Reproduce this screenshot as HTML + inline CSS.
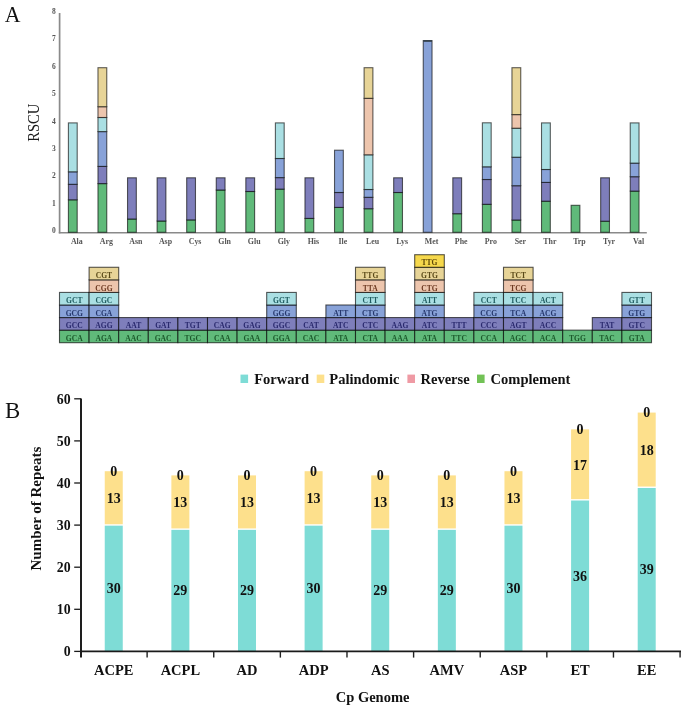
<!DOCTYPE html>
<html><head><meta charset="utf-8"><style>
html,body{margin:0;padding:0;background:#fff;}
body{width:685px;height:705px;overflow:hidden;font-family:"Liberation Serif",serif;}
svg{display:block;filter:blur(0.4px);}
</style></head><body>
<svg width="685" height="705" viewBox="0 0 685 705">
<text transform="translate(4.7,21.7) scale(1,1.08)" font-size="21.8" font-family="Liberation Serif" fill="#111">A</text>
<text transform="translate(39.4,122.7) rotate(-90) scale(0.89,1)" text-anchor="middle" font-size="16.5" font-family="Liberation Serif" fill="#1a1a1a">RSCU</text>
<text x="55.7" y="233.1" text-anchor="end" font-size="7.5" font-weight="bold" font-family="Liberation Serif" fill="#555">0</text>
<text x="55.7" y="205.7" text-anchor="end" font-size="7.5" font-weight="bold" font-family="Liberation Serif" fill="#555">1</text>
<text x="55.7" y="178.3" text-anchor="end" font-size="7.5" font-weight="bold" font-family="Liberation Serif" fill="#555">2</text>
<text x="55.7" y="150.9" text-anchor="end" font-size="7.5" font-weight="bold" font-family="Liberation Serif" fill="#555">3</text>
<text x="55.7" y="123.5" text-anchor="end" font-size="7.5" font-weight="bold" font-family="Liberation Serif" fill="#555">4</text>
<text x="55.7" y="96.1" text-anchor="end" font-size="7.5" font-weight="bold" font-family="Liberation Serif" fill="#555">5</text>
<text x="55.7" y="68.7" text-anchor="end" font-size="7.5" font-weight="bold" font-family="Liberation Serif" fill="#555">6</text>
<text x="55.7" y="41.3" text-anchor="end" font-size="7.5" font-weight="bold" font-family="Liberation Serif" fill="#555">7</text>
<text x="55.7" y="13.9" text-anchor="end" font-size="7.5" font-weight="bold" font-family="Liberation Serif" fill="#555">8</text>
<line x1="59.6" y1="13" x2="59.6" y2="233.4" stroke="#8a8a8a" stroke-width="1.7"/>
<line x1="58.8" y1="232.7" x2="646.8" y2="232.7" stroke="#8a8a8a" stroke-width="1.5"/>
<rect x="68.40" y="199.80" width="8.8" height="32.50" fill="#60ba7a" stroke="#000" stroke-opacity="0.62" stroke-width="1.1"/>
<rect x="68.40" y="184.30" width="8.8" height="15.50" fill="#7e7ebb" stroke="#000" stroke-opacity="0.62" stroke-width="1.1"/>
<rect x="68.40" y="171.80" width="8.8" height="12.50" fill="#88a2d8" stroke="#000" stroke-opacity="0.62" stroke-width="1.1"/>
<rect x="68.40" y="122.90" width="8.8" height="48.90" fill="#aadfe3" stroke="#000" stroke-opacity="0.62" stroke-width="1.1"/>
<text x="76.80" y="243.7" text-anchor="middle" font-size="7.9" font-weight="bold" font-family="Liberation Serif" fill="#555">Ala</text>
<rect x="97.97" y="183.60" width="8.8" height="48.70" fill="#60ba7a" stroke="#000" stroke-opacity="0.62" stroke-width="1.1"/>
<rect x="97.97" y="166.40" width="8.8" height="17.20" fill="#7e7ebb" stroke="#000" stroke-opacity="0.62" stroke-width="1.1"/>
<rect x="97.97" y="131.60" width="8.8" height="34.80" fill="#88a2d8" stroke="#000" stroke-opacity="0.62" stroke-width="1.1"/>
<rect x="97.97" y="117.50" width="8.8" height="14.10" fill="#aadfe3" stroke="#000" stroke-opacity="0.62" stroke-width="1.1"/>
<rect x="97.97" y="106.70" width="8.8" height="10.80" fill="#edc5ad" stroke="#000" stroke-opacity="0.62" stroke-width="1.1"/>
<rect x="97.97" y="67.70" width="8.8" height="39.00" fill="#e7d497" stroke="#000" stroke-opacity="0.62" stroke-width="1.1"/>
<text x="106.37" y="243.7" text-anchor="middle" font-size="7.9" font-weight="bold" font-family="Liberation Serif" fill="#555">Arg</text>
<rect x="127.54" y="219.00" width="8.8" height="13.30" fill="#60ba7a" stroke="#000" stroke-opacity="0.62" stroke-width="1.1"/>
<rect x="127.54" y="177.80" width="8.8" height="41.20" fill="#7e7ebb" stroke="#000" stroke-opacity="0.62" stroke-width="1.1"/>
<text x="135.94" y="243.7" text-anchor="middle" font-size="7.9" font-weight="bold" font-family="Liberation Serif" fill="#555">Asn</text>
<rect x="157.11" y="221.00" width="8.8" height="11.30" fill="#60ba7a" stroke="#000" stroke-opacity="0.62" stroke-width="1.1"/>
<rect x="157.11" y="177.80" width="8.8" height="43.20" fill="#7e7ebb" stroke="#000" stroke-opacity="0.62" stroke-width="1.1"/>
<text x="165.51" y="243.7" text-anchor="middle" font-size="7.9" font-weight="bold" font-family="Liberation Serif" fill="#555">Asp</text>
<rect x="186.68" y="219.90" width="8.8" height="12.40" fill="#60ba7a" stroke="#000" stroke-opacity="0.62" stroke-width="1.1"/>
<rect x="186.68" y="177.80" width="8.8" height="42.10" fill="#7e7ebb" stroke="#000" stroke-opacity="0.62" stroke-width="1.1"/>
<text x="195.08" y="243.7" text-anchor="middle" font-size="7.9" font-weight="bold" font-family="Liberation Serif" fill="#555">Cys</text>
<rect x="216.25" y="190.00" width="8.8" height="42.30" fill="#60ba7a" stroke="#000" stroke-opacity="0.62" stroke-width="1.1"/>
<rect x="216.25" y="177.80" width="8.8" height="12.20" fill="#7e7ebb" stroke="#000" stroke-opacity="0.62" stroke-width="1.1"/>
<text x="224.65" y="243.7" text-anchor="middle" font-size="7.9" font-weight="bold" font-family="Liberation Serif" fill="#555">Gln</text>
<rect x="245.82" y="191.50" width="8.8" height="40.80" fill="#60ba7a" stroke="#000" stroke-opacity="0.62" stroke-width="1.1"/>
<rect x="245.82" y="177.80" width="8.8" height="13.70" fill="#7e7ebb" stroke="#000" stroke-opacity="0.62" stroke-width="1.1"/>
<text x="254.22" y="243.7" text-anchor="middle" font-size="7.9" font-weight="bold" font-family="Liberation Serif" fill="#555">Glu</text>
<rect x="275.39" y="189.10" width="8.8" height="43.20" fill="#60ba7a" stroke="#000" stroke-opacity="0.62" stroke-width="1.1"/>
<rect x="275.39" y="177.60" width="8.8" height="11.50" fill="#7e7ebb" stroke="#000" stroke-opacity="0.62" stroke-width="1.1"/>
<rect x="275.39" y="158.50" width="8.8" height="19.10" fill="#88a2d8" stroke="#000" stroke-opacity="0.62" stroke-width="1.1"/>
<rect x="275.39" y="122.90" width="8.8" height="35.60" fill="#aadfe3" stroke="#000" stroke-opacity="0.62" stroke-width="1.1"/>
<text x="283.79" y="243.7" text-anchor="middle" font-size="7.9" font-weight="bold" font-family="Liberation Serif" fill="#555">Gly</text>
<rect x="304.96" y="218.40" width="8.8" height="13.90" fill="#60ba7a" stroke="#000" stroke-opacity="0.62" stroke-width="1.1"/>
<rect x="304.96" y="177.80" width="8.8" height="40.60" fill="#7e7ebb" stroke="#000" stroke-opacity="0.62" stroke-width="1.1"/>
<text x="313.36" y="243.7" text-anchor="middle" font-size="7.9" font-weight="bold" font-family="Liberation Serif" fill="#555">His</text>
<rect x="334.53" y="207.40" width="8.8" height="24.90" fill="#60ba7a" stroke="#000" stroke-opacity="0.62" stroke-width="1.1"/>
<rect x="334.53" y="192.50" width="8.8" height="14.90" fill="#7e7ebb" stroke="#000" stroke-opacity="0.62" stroke-width="1.1"/>
<rect x="334.53" y="150.20" width="8.8" height="42.30" fill="#88a2d8" stroke="#000" stroke-opacity="0.62" stroke-width="1.1"/>
<text x="342.93" y="243.7" text-anchor="middle" font-size="7.9" font-weight="bold" font-family="Liberation Serif" fill="#555">Ile</text>
<rect x="364.10" y="208.70" width="8.8" height="23.60" fill="#60ba7a" stroke="#000" stroke-opacity="0.62" stroke-width="1.1"/>
<rect x="364.10" y="197.30" width="8.8" height="11.40" fill="#7e7ebb" stroke="#000" stroke-opacity="0.62" stroke-width="1.1"/>
<rect x="364.10" y="189.50" width="8.8" height="7.80" fill="#88a2d8" stroke="#000" stroke-opacity="0.62" stroke-width="1.1"/>
<rect x="364.10" y="154.80" width="8.8" height="34.70" fill="#aadfe3" stroke="#000" stroke-opacity="0.62" stroke-width="1.1"/>
<rect x="364.10" y="98.30" width="8.8" height="56.50" fill="#edc5ad" stroke="#000" stroke-opacity="0.62" stroke-width="1.1"/>
<rect x="364.10" y="67.70" width="8.8" height="30.60" fill="#e7d497" stroke="#000" stroke-opacity="0.62" stroke-width="1.1"/>
<text x="372.50" y="243.7" text-anchor="middle" font-size="7.9" font-weight="bold" font-family="Liberation Serif" fill="#555">Leu</text>
<rect x="393.67" y="192.50" width="8.8" height="39.80" fill="#60ba7a" stroke="#000" stroke-opacity="0.62" stroke-width="1.1"/>
<rect x="393.67" y="177.80" width="8.8" height="14.70" fill="#7e7ebb" stroke="#000" stroke-opacity="0.62" stroke-width="1.1"/>
<text x="402.07" y="243.7" text-anchor="middle" font-size="7.9" font-weight="bold" font-family="Liberation Serif" fill="#555">Lys</text>
<rect x="423.24" y="40.60" width="8.8" height="191.70" fill="#88a2d8" stroke="#000" stroke-opacity="0.62" stroke-width="1.1"/>
<rect x="423.24" y="40.20" width="8.8" height="1.6" fill="#34404a"/>
<text x="431.64" y="243.7" text-anchor="middle" font-size="7.9" font-weight="bold" font-family="Liberation Serif" fill="#555">Met</text>
<rect x="452.81" y="213.70" width="8.8" height="18.60" fill="#60ba7a" stroke="#000" stroke-opacity="0.62" stroke-width="1.1"/>
<rect x="452.81" y="177.80" width="8.8" height="35.90" fill="#7e7ebb" stroke="#000" stroke-opacity="0.62" stroke-width="1.1"/>
<text x="461.21" y="243.7" text-anchor="middle" font-size="7.9" font-weight="bold" font-family="Liberation Serif" fill="#555">Phe</text>
<rect x="482.38" y="204.30" width="8.8" height="28.00" fill="#60ba7a" stroke="#000" stroke-opacity="0.62" stroke-width="1.1"/>
<rect x="482.38" y="179.50" width="8.8" height="24.80" fill="#7e7ebb" stroke="#000" stroke-opacity="0.62" stroke-width="1.1"/>
<rect x="482.38" y="166.80" width="8.8" height="12.70" fill="#88a2d8" stroke="#000" stroke-opacity="0.62" stroke-width="1.1"/>
<rect x="482.38" y="122.80" width="8.8" height="44.00" fill="#aadfe3" stroke="#000" stroke-opacity="0.62" stroke-width="1.1"/>
<text x="490.78" y="243.7" text-anchor="middle" font-size="7.9" font-weight="bold" font-family="Liberation Serif" fill="#555">Pro</text>
<rect x="511.95" y="220.00" width="8.8" height="12.30" fill="#60ba7a" stroke="#000" stroke-opacity="0.62" stroke-width="1.1"/>
<rect x="511.95" y="185.70" width="8.8" height="34.30" fill="#7e7ebb" stroke="#000" stroke-opacity="0.62" stroke-width="1.1"/>
<rect x="511.95" y="157.20" width="8.8" height="28.50" fill="#88a2d8" stroke="#000" stroke-opacity="0.62" stroke-width="1.1"/>
<rect x="511.95" y="128.20" width="8.8" height="29.00" fill="#aadfe3" stroke="#000" stroke-opacity="0.62" stroke-width="1.1"/>
<rect x="511.95" y="114.60" width="8.8" height="13.60" fill="#edc5ad" stroke="#000" stroke-opacity="0.62" stroke-width="1.1"/>
<rect x="511.95" y="67.70" width="8.8" height="46.90" fill="#e7d497" stroke="#000" stroke-opacity="0.62" stroke-width="1.1"/>
<text x="520.35" y="243.7" text-anchor="middle" font-size="7.9" font-weight="bold" font-family="Liberation Serif" fill="#555">Ser</text>
<rect x="541.52" y="201.20" width="8.8" height="31.10" fill="#60ba7a" stroke="#000" stroke-opacity="0.62" stroke-width="1.1"/>
<rect x="541.52" y="182.40" width="8.8" height="18.80" fill="#7e7ebb" stroke="#000" stroke-opacity="0.62" stroke-width="1.1"/>
<rect x="541.52" y="169.50" width="8.8" height="12.90" fill="#88a2d8" stroke="#000" stroke-opacity="0.62" stroke-width="1.1"/>
<rect x="541.52" y="122.90" width="8.8" height="46.60" fill="#aadfe3" stroke="#000" stroke-opacity="0.62" stroke-width="1.1"/>
<text x="549.92" y="243.7" text-anchor="middle" font-size="7.9" font-weight="bold" font-family="Liberation Serif" fill="#555">Thr</text>
<rect x="571.09" y="205.30" width="8.8" height="27.00" fill="#60ba7a" stroke="#000" stroke-opacity="0.62" stroke-width="1.1"/>
<text x="579.49" y="243.7" text-anchor="middle" font-size="7.9" font-weight="bold" font-family="Liberation Serif" fill="#555">Trp</text>
<rect x="600.66" y="221.20" width="8.8" height="11.10" fill="#60ba7a" stroke="#000" stroke-opacity="0.62" stroke-width="1.1"/>
<rect x="600.66" y="177.80" width="8.8" height="43.40" fill="#7e7ebb" stroke="#000" stroke-opacity="0.62" stroke-width="1.1"/>
<text x="609.06" y="243.7" text-anchor="middle" font-size="7.9" font-weight="bold" font-family="Liberation Serif" fill="#555">Tyr</text>
<rect x="630.23" y="191.10" width="8.8" height="41.20" fill="#60ba7a" stroke="#000" stroke-opacity="0.62" stroke-width="1.1"/>
<rect x="630.23" y="176.70" width="8.8" height="14.40" fill="#7e7ebb" stroke="#000" stroke-opacity="0.62" stroke-width="1.1"/>
<rect x="630.23" y="163.10" width="8.8" height="13.60" fill="#88a2d8" stroke="#000" stroke-opacity="0.62" stroke-width="1.1"/>
<rect x="630.23" y="122.90" width="8.8" height="40.20" fill="#aadfe3" stroke="#000" stroke-opacity="0.62" stroke-width="1.1"/>
<text x="638.63" y="243.7" text-anchor="middle" font-size="7.9" font-weight="bold" font-family="Liberation Serif" fill="#555">Val</text>
<rect x="59.50" y="330.13" width="29.60" height="12.57" fill="#60ba7a" stroke="#000" stroke-opacity="0.65" stroke-width="1.1"/>
<text x="74.30" y="340.81" text-anchor="middle" font-size="7.6" font-weight="bold" font-family="Liberation Serif" fill="#1c5a2c">GCA</text>
<rect x="59.50" y="317.56" width="29.60" height="12.57" fill="#7e7ebb" stroke="#000" stroke-opacity="0.65" stroke-width="1.1"/>
<text x="74.30" y="328.25" text-anchor="middle" font-size="7.6" font-weight="bold" font-family="Liberation Serif" fill="#2a2a6e">GCC</text>
<rect x="59.50" y="304.99" width="29.60" height="12.57" fill="#88a2d8" stroke="#000" stroke-opacity="0.65" stroke-width="1.1"/>
<text x="74.30" y="315.68" text-anchor="middle" font-size="7.6" font-weight="bold" font-family="Liberation Serif" fill="#26386e">GCG</text>
<rect x="59.50" y="292.42" width="29.60" height="12.57" fill="#aadfe3" stroke="#000" stroke-opacity="0.65" stroke-width="1.1"/>
<text x="74.30" y="303.10" text-anchor="middle" font-size="7.6" font-weight="bold" font-family="Liberation Serif" fill="#1f5c60">GCT</text>
<rect x="89.10" y="330.13" width="29.60" height="12.57" fill="#60ba7a" stroke="#000" stroke-opacity="0.65" stroke-width="1.1"/>
<text x="103.90" y="340.81" text-anchor="middle" font-size="7.6" font-weight="bold" font-family="Liberation Serif" fill="#1c5a2c">AGA</text>
<rect x="89.10" y="317.56" width="29.60" height="12.57" fill="#7e7ebb" stroke="#000" stroke-opacity="0.65" stroke-width="1.1"/>
<text x="103.90" y="328.25" text-anchor="middle" font-size="7.6" font-weight="bold" font-family="Liberation Serif" fill="#2a2a6e">AGG</text>
<rect x="89.10" y="304.99" width="29.60" height="12.57" fill="#88a2d8" stroke="#000" stroke-opacity="0.65" stroke-width="1.1"/>
<text x="103.90" y="315.68" text-anchor="middle" font-size="7.6" font-weight="bold" font-family="Liberation Serif" fill="#26386e">CGA</text>
<rect x="89.10" y="292.42" width="29.60" height="12.57" fill="#aadfe3" stroke="#000" stroke-opacity="0.65" stroke-width="1.1"/>
<text x="103.90" y="303.10" text-anchor="middle" font-size="7.6" font-weight="bold" font-family="Liberation Serif" fill="#1f5c60">CGC</text>
<rect x="89.10" y="279.85" width="29.60" height="12.57" fill="#edc5ad" stroke="#000" stroke-opacity="0.65" stroke-width="1.1"/>
<text x="103.90" y="290.53" text-anchor="middle" font-size="7.6" font-weight="bold" font-family="Liberation Serif" fill="#6e3a22">CGG</text>
<rect x="89.10" y="267.28" width="29.60" height="12.57" fill="#e7d497" stroke="#000" stroke-opacity="0.65" stroke-width="1.1"/>
<text x="103.90" y="277.96" text-anchor="middle" font-size="7.6" font-weight="bold" font-family="Liberation Serif" fill="#5a4a18">CGT</text>
<rect x="118.70" y="330.13" width="29.60" height="12.57" fill="#60ba7a" stroke="#000" stroke-opacity="0.65" stroke-width="1.1"/>
<text x="133.50" y="340.81" text-anchor="middle" font-size="7.6" font-weight="bold" font-family="Liberation Serif" fill="#1c5a2c">AAC</text>
<rect x="118.70" y="317.56" width="29.60" height="12.57" fill="#7e7ebb" stroke="#000" stroke-opacity="0.65" stroke-width="1.1"/>
<text x="133.50" y="328.25" text-anchor="middle" font-size="7.6" font-weight="bold" font-family="Liberation Serif" fill="#2a2a6e">AAT</text>
<rect x="148.30" y="330.13" width="29.60" height="12.57" fill="#60ba7a" stroke="#000" stroke-opacity="0.65" stroke-width="1.1"/>
<text x="163.10" y="340.81" text-anchor="middle" font-size="7.6" font-weight="bold" font-family="Liberation Serif" fill="#1c5a2c">GAC</text>
<rect x="148.30" y="317.56" width="29.60" height="12.57" fill="#7e7ebb" stroke="#000" stroke-opacity="0.65" stroke-width="1.1"/>
<text x="163.10" y="328.25" text-anchor="middle" font-size="7.6" font-weight="bold" font-family="Liberation Serif" fill="#2a2a6e">GAT</text>
<rect x="177.90" y="330.13" width="29.60" height="12.57" fill="#60ba7a" stroke="#000" stroke-opacity="0.65" stroke-width="1.1"/>
<text x="192.70" y="340.81" text-anchor="middle" font-size="7.6" font-weight="bold" font-family="Liberation Serif" fill="#1c5a2c">TGC</text>
<rect x="177.90" y="317.56" width="29.60" height="12.57" fill="#7e7ebb" stroke="#000" stroke-opacity="0.65" stroke-width="1.1"/>
<text x="192.70" y="328.25" text-anchor="middle" font-size="7.6" font-weight="bold" font-family="Liberation Serif" fill="#2a2a6e">TGT</text>
<rect x="207.50" y="330.13" width="29.60" height="12.57" fill="#60ba7a" stroke="#000" stroke-opacity="0.65" stroke-width="1.1"/>
<text x="222.30" y="340.81" text-anchor="middle" font-size="7.6" font-weight="bold" font-family="Liberation Serif" fill="#1c5a2c">CAA</text>
<rect x="207.50" y="317.56" width="29.60" height="12.57" fill="#7e7ebb" stroke="#000" stroke-opacity="0.65" stroke-width="1.1"/>
<text x="222.30" y="328.25" text-anchor="middle" font-size="7.6" font-weight="bold" font-family="Liberation Serif" fill="#2a2a6e">CAG</text>
<rect x="237.10" y="330.13" width="29.60" height="12.57" fill="#60ba7a" stroke="#000" stroke-opacity="0.65" stroke-width="1.1"/>
<text x="251.90" y="340.81" text-anchor="middle" font-size="7.6" font-weight="bold" font-family="Liberation Serif" fill="#1c5a2c">GAA</text>
<rect x="237.10" y="317.56" width="29.60" height="12.57" fill="#7e7ebb" stroke="#000" stroke-opacity="0.65" stroke-width="1.1"/>
<text x="251.90" y="328.25" text-anchor="middle" font-size="7.6" font-weight="bold" font-family="Liberation Serif" fill="#2a2a6e">GAG</text>
<rect x="266.70" y="330.13" width="29.60" height="12.57" fill="#60ba7a" stroke="#000" stroke-opacity="0.65" stroke-width="1.1"/>
<text x="281.50" y="340.81" text-anchor="middle" font-size="7.6" font-weight="bold" font-family="Liberation Serif" fill="#1c5a2c">GGA</text>
<rect x="266.70" y="317.56" width="29.60" height="12.57" fill="#7e7ebb" stroke="#000" stroke-opacity="0.65" stroke-width="1.1"/>
<text x="281.50" y="328.25" text-anchor="middle" font-size="7.6" font-weight="bold" font-family="Liberation Serif" fill="#2a2a6e">GGC</text>
<rect x="266.70" y="304.99" width="29.60" height="12.57" fill="#88a2d8" stroke="#000" stroke-opacity="0.65" stroke-width="1.1"/>
<text x="281.50" y="315.68" text-anchor="middle" font-size="7.6" font-weight="bold" font-family="Liberation Serif" fill="#26386e">GGG</text>
<rect x="266.70" y="292.42" width="29.60" height="12.57" fill="#aadfe3" stroke="#000" stroke-opacity="0.65" stroke-width="1.1"/>
<text x="281.50" y="303.10" text-anchor="middle" font-size="7.6" font-weight="bold" font-family="Liberation Serif" fill="#1f5c60">GGT</text>
<rect x="296.30" y="330.13" width="29.60" height="12.57" fill="#60ba7a" stroke="#000" stroke-opacity="0.65" stroke-width="1.1"/>
<text x="311.10" y="340.81" text-anchor="middle" font-size="7.6" font-weight="bold" font-family="Liberation Serif" fill="#1c5a2c">CAC</text>
<rect x="296.30" y="317.56" width="29.60" height="12.57" fill="#7e7ebb" stroke="#000" stroke-opacity="0.65" stroke-width="1.1"/>
<text x="311.10" y="328.25" text-anchor="middle" font-size="7.6" font-weight="bold" font-family="Liberation Serif" fill="#2a2a6e">CAT</text>
<rect x="325.90" y="330.13" width="29.60" height="12.57" fill="#60ba7a" stroke="#000" stroke-opacity="0.65" stroke-width="1.1"/>
<text x="340.70" y="340.81" text-anchor="middle" font-size="7.6" font-weight="bold" font-family="Liberation Serif" fill="#1c5a2c">ATA</text>
<rect x="325.90" y="317.56" width="29.60" height="12.57" fill="#7e7ebb" stroke="#000" stroke-opacity="0.65" stroke-width="1.1"/>
<text x="340.70" y="328.25" text-anchor="middle" font-size="7.6" font-weight="bold" font-family="Liberation Serif" fill="#2a2a6e">ATC</text>
<rect x="325.90" y="304.99" width="29.60" height="12.57" fill="#88a2d8" stroke="#000" stroke-opacity="0.65" stroke-width="1.1"/>
<text x="340.70" y="315.68" text-anchor="middle" font-size="7.6" font-weight="bold" font-family="Liberation Serif" fill="#26386e">ATT</text>
<rect x="355.50" y="330.13" width="29.60" height="12.57" fill="#60ba7a" stroke="#000" stroke-opacity="0.65" stroke-width="1.1"/>
<text x="370.30" y="340.81" text-anchor="middle" font-size="7.6" font-weight="bold" font-family="Liberation Serif" fill="#1c5a2c">CTA</text>
<rect x="355.50" y="317.56" width="29.60" height="12.57" fill="#7e7ebb" stroke="#000" stroke-opacity="0.65" stroke-width="1.1"/>
<text x="370.30" y="328.25" text-anchor="middle" font-size="7.6" font-weight="bold" font-family="Liberation Serif" fill="#2a2a6e">CTC</text>
<rect x="355.50" y="304.99" width="29.60" height="12.57" fill="#88a2d8" stroke="#000" stroke-opacity="0.65" stroke-width="1.1"/>
<text x="370.30" y="315.68" text-anchor="middle" font-size="7.6" font-weight="bold" font-family="Liberation Serif" fill="#26386e">CTG</text>
<rect x="355.50" y="292.42" width="29.60" height="12.57" fill="#aadfe3" stroke="#000" stroke-opacity="0.65" stroke-width="1.1"/>
<text x="370.30" y="303.10" text-anchor="middle" font-size="7.6" font-weight="bold" font-family="Liberation Serif" fill="#1f5c60">CTT</text>
<rect x="355.50" y="279.85" width="29.60" height="12.57" fill="#edc5ad" stroke="#000" stroke-opacity="0.65" stroke-width="1.1"/>
<text x="370.30" y="290.53" text-anchor="middle" font-size="7.6" font-weight="bold" font-family="Liberation Serif" fill="#6e3a22">TTA</text>
<rect x="355.50" y="267.28" width="29.60" height="12.57" fill="#e7d497" stroke="#000" stroke-opacity="0.65" stroke-width="1.1"/>
<text x="370.30" y="277.96" text-anchor="middle" font-size="7.6" font-weight="bold" font-family="Liberation Serif" fill="#5a4a18">TTG</text>
<rect x="385.10" y="330.13" width="29.60" height="12.57" fill="#60ba7a" stroke="#000" stroke-opacity="0.65" stroke-width="1.1"/>
<text x="399.90" y="340.81" text-anchor="middle" font-size="7.6" font-weight="bold" font-family="Liberation Serif" fill="#1c5a2c">AAA</text>
<rect x="385.10" y="317.56" width="29.60" height="12.57" fill="#7e7ebb" stroke="#000" stroke-opacity="0.65" stroke-width="1.1"/>
<text x="399.90" y="328.25" text-anchor="middle" font-size="7.6" font-weight="bold" font-family="Liberation Serif" fill="#2a2a6e">AAG</text>
<rect x="414.70" y="330.13" width="29.60" height="12.57" fill="#60ba7a" stroke="#000" stroke-opacity="0.65" stroke-width="1.1"/>
<text x="429.50" y="340.81" text-anchor="middle" font-size="7.6" font-weight="bold" font-family="Liberation Serif" fill="#1c5a2c">ATA</text>
<rect x="414.70" y="317.56" width="29.60" height="12.57" fill="#7e7ebb" stroke="#000" stroke-opacity="0.65" stroke-width="1.1"/>
<text x="429.50" y="328.25" text-anchor="middle" font-size="7.6" font-weight="bold" font-family="Liberation Serif" fill="#2a2a6e">ATC</text>
<rect x="414.70" y="304.99" width="29.60" height="12.57" fill="#88a2d8" stroke="#000" stroke-opacity="0.65" stroke-width="1.1"/>
<text x="429.50" y="315.68" text-anchor="middle" font-size="7.6" font-weight="bold" font-family="Liberation Serif" fill="#26386e">ATG</text>
<rect x="414.70" y="292.42" width="29.60" height="12.57" fill="#aadfe3" stroke="#000" stroke-opacity="0.65" stroke-width="1.1"/>
<text x="429.50" y="303.10" text-anchor="middle" font-size="7.6" font-weight="bold" font-family="Liberation Serif" fill="#1f5c60">ATT</text>
<rect x="414.70" y="279.85" width="29.60" height="12.57" fill="#edc5ad" stroke="#000" stroke-opacity="0.65" stroke-width="1.1"/>
<text x="429.50" y="290.53" text-anchor="middle" font-size="7.6" font-weight="bold" font-family="Liberation Serif" fill="#6e3a22">CTG</text>
<rect x="414.70" y="267.28" width="29.60" height="12.57" fill="#e7d497" stroke="#000" stroke-opacity="0.65" stroke-width="1.1"/>
<text x="429.50" y="277.96" text-anchor="middle" font-size="7.6" font-weight="bold" font-family="Liberation Serif" fill="#5a4a18">GTG</text>
<rect x="414.70" y="254.71" width="29.60" height="12.57" fill="#f6d84c" stroke="#000" stroke-opacity="0.65" stroke-width="1.1"/>
<text x="429.50" y="265.39" text-anchor="middle" font-size="7.6" font-weight="bold" font-family="Liberation Serif" fill="#5e4806">TTG</text>
<rect x="444.30" y="330.13" width="29.60" height="12.57" fill="#60ba7a" stroke="#000" stroke-opacity="0.65" stroke-width="1.1"/>
<text x="459.10" y="340.81" text-anchor="middle" font-size="7.6" font-weight="bold" font-family="Liberation Serif" fill="#1c5a2c">TTC</text>
<rect x="444.30" y="317.56" width="29.60" height="12.57" fill="#7e7ebb" stroke="#000" stroke-opacity="0.65" stroke-width="1.1"/>
<text x="459.10" y="328.25" text-anchor="middle" font-size="7.6" font-weight="bold" font-family="Liberation Serif" fill="#2a2a6e">TTT</text>
<rect x="473.90" y="330.13" width="29.60" height="12.57" fill="#60ba7a" stroke="#000" stroke-opacity="0.65" stroke-width="1.1"/>
<text x="488.70" y="340.81" text-anchor="middle" font-size="7.6" font-weight="bold" font-family="Liberation Serif" fill="#1c5a2c">CCA</text>
<rect x="473.90" y="317.56" width="29.60" height="12.57" fill="#7e7ebb" stroke="#000" stroke-opacity="0.65" stroke-width="1.1"/>
<text x="488.70" y="328.25" text-anchor="middle" font-size="7.6" font-weight="bold" font-family="Liberation Serif" fill="#2a2a6e">CCC</text>
<rect x="473.90" y="304.99" width="29.60" height="12.57" fill="#88a2d8" stroke="#000" stroke-opacity="0.65" stroke-width="1.1"/>
<text x="488.70" y="315.68" text-anchor="middle" font-size="7.6" font-weight="bold" font-family="Liberation Serif" fill="#26386e">CCG</text>
<rect x="473.90" y="292.42" width="29.60" height="12.57" fill="#aadfe3" stroke="#000" stroke-opacity="0.65" stroke-width="1.1"/>
<text x="488.70" y="303.10" text-anchor="middle" font-size="7.6" font-weight="bold" font-family="Liberation Serif" fill="#1f5c60">CCT</text>
<rect x="503.50" y="330.13" width="29.60" height="12.57" fill="#60ba7a" stroke="#000" stroke-opacity="0.65" stroke-width="1.1"/>
<text x="518.30" y="340.81" text-anchor="middle" font-size="7.6" font-weight="bold" font-family="Liberation Serif" fill="#1c5a2c">AGC</text>
<rect x="503.50" y="317.56" width="29.60" height="12.57" fill="#7e7ebb" stroke="#000" stroke-opacity="0.65" stroke-width="1.1"/>
<text x="518.30" y="328.25" text-anchor="middle" font-size="7.6" font-weight="bold" font-family="Liberation Serif" fill="#2a2a6e">AGT</text>
<rect x="503.50" y="304.99" width="29.60" height="12.57" fill="#88a2d8" stroke="#000" stroke-opacity="0.65" stroke-width="1.1"/>
<text x="518.30" y="315.68" text-anchor="middle" font-size="7.6" font-weight="bold" font-family="Liberation Serif" fill="#26386e">TCA</text>
<rect x="503.50" y="292.42" width="29.60" height="12.57" fill="#aadfe3" stroke="#000" stroke-opacity="0.65" stroke-width="1.1"/>
<text x="518.30" y="303.10" text-anchor="middle" font-size="7.6" font-weight="bold" font-family="Liberation Serif" fill="#1f5c60">TCC</text>
<rect x="503.50" y="279.85" width="29.60" height="12.57" fill="#edc5ad" stroke="#000" stroke-opacity="0.65" stroke-width="1.1"/>
<text x="518.30" y="290.53" text-anchor="middle" font-size="7.6" font-weight="bold" font-family="Liberation Serif" fill="#6e3a22">TCG</text>
<rect x="503.50" y="267.28" width="29.60" height="12.57" fill="#e7d497" stroke="#000" stroke-opacity="0.65" stroke-width="1.1"/>
<text x="518.30" y="277.96" text-anchor="middle" font-size="7.6" font-weight="bold" font-family="Liberation Serif" fill="#5a4a18">TCT</text>
<rect x="533.10" y="330.13" width="29.60" height="12.57" fill="#60ba7a" stroke="#000" stroke-opacity="0.65" stroke-width="1.1"/>
<text x="547.90" y="340.81" text-anchor="middle" font-size="7.6" font-weight="bold" font-family="Liberation Serif" fill="#1c5a2c">ACA</text>
<rect x="533.10" y="317.56" width="29.60" height="12.57" fill="#7e7ebb" stroke="#000" stroke-opacity="0.65" stroke-width="1.1"/>
<text x="547.90" y="328.25" text-anchor="middle" font-size="7.6" font-weight="bold" font-family="Liberation Serif" fill="#2a2a6e">ACC</text>
<rect x="533.10" y="304.99" width="29.60" height="12.57" fill="#88a2d8" stroke="#000" stroke-opacity="0.65" stroke-width="1.1"/>
<text x="547.90" y="315.68" text-anchor="middle" font-size="7.6" font-weight="bold" font-family="Liberation Serif" fill="#26386e">ACG</text>
<rect x="533.10" y="292.42" width="29.60" height="12.57" fill="#aadfe3" stroke="#000" stroke-opacity="0.65" stroke-width="1.1"/>
<text x="547.90" y="303.10" text-anchor="middle" font-size="7.6" font-weight="bold" font-family="Liberation Serif" fill="#1f5c60">ACT</text>
<rect x="562.70" y="330.13" width="29.60" height="12.57" fill="#60ba7a" stroke="#000" stroke-opacity="0.65" stroke-width="1.1"/>
<text x="577.50" y="340.81" text-anchor="middle" font-size="7.6" font-weight="bold" font-family="Liberation Serif" fill="#1c5a2c">TGG</text>
<rect x="592.30" y="330.13" width="29.60" height="12.57" fill="#60ba7a" stroke="#000" stroke-opacity="0.65" stroke-width="1.1"/>
<text x="607.10" y="340.81" text-anchor="middle" font-size="7.6" font-weight="bold" font-family="Liberation Serif" fill="#1c5a2c">TAC</text>
<rect x="592.30" y="317.56" width="29.60" height="12.57" fill="#7e7ebb" stroke="#000" stroke-opacity="0.65" stroke-width="1.1"/>
<text x="607.10" y="328.25" text-anchor="middle" font-size="7.6" font-weight="bold" font-family="Liberation Serif" fill="#2a2a6e">TAT</text>
<rect x="621.90" y="330.13" width="29.60" height="12.57" fill="#60ba7a" stroke="#000" stroke-opacity="0.65" stroke-width="1.1"/>
<text x="636.70" y="340.81" text-anchor="middle" font-size="7.6" font-weight="bold" font-family="Liberation Serif" fill="#1c5a2c">GTA</text>
<rect x="621.90" y="317.56" width="29.60" height="12.57" fill="#7e7ebb" stroke="#000" stroke-opacity="0.65" stroke-width="1.1"/>
<text x="636.70" y="328.25" text-anchor="middle" font-size="7.6" font-weight="bold" font-family="Liberation Serif" fill="#2a2a6e">GTC</text>
<rect x="621.90" y="304.99" width="29.60" height="12.57" fill="#88a2d8" stroke="#000" stroke-opacity="0.65" stroke-width="1.1"/>
<text x="636.70" y="315.68" text-anchor="middle" font-size="7.6" font-weight="bold" font-family="Liberation Serif" fill="#26386e">GTG</text>
<rect x="621.90" y="292.42" width="29.60" height="12.57" fill="#aadfe3" stroke="#000" stroke-opacity="0.65" stroke-width="1.1"/>
<text x="636.70" y="303.10" text-anchor="middle" font-size="7.6" font-weight="bold" font-family="Liberation Serif" fill="#1f5c60">GTT</text>
<rect x="240.5" y="374.6" width="7.6" height="8.4" fill="#7edcd6"/>
<text x="254.2" y="383.6" font-size="14.5" font-weight="bold" font-family="Liberation Serif" fill="#111">Forward</text>
<rect x="316.7" y="374.6" width="7.6" height="8.4" fill="#fde08c"/>
<text x="329.3" y="383.6" font-size="14.5" font-weight="bold" font-family="Liberation Serif" fill="#111">Palindomic</text>
<rect x="407.4" y="374.6" width="7.6" height="8.4" fill="#ef9aa4"/>
<text x="420.5" y="383.6" font-size="14.5" font-weight="bold" font-family="Liberation Serif" fill="#111">Reverse</text>
<rect x="477.0" y="374.6" width="7.6" height="8.4" fill="#72c256"/>
<text x="490.6" y="383.6" font-size="14.5" font-weight="bold" font-family="Liberation Serif" fill="#111">Complement</text>
<text transform="translate(5.0,417.8) scale(1.1,1.145)" font-size="20.8" font-family="Liberation Serif" fill="#111">B</text>
<text transform="translate(41.3,508.6) rotate(-90)" text-anchor="middle" font-size="15.0" font-weight="bold" font-family="Liberation Serif" fill="#111">Number of Repeats</text>
<line x1="74.2" y1="651.40" x2="81" y2="651.40" stroke="#1a1a1a" stroke-width="1.3"/>
<text x="70.6" y="656.10" text-anchor="end" font-size="13.8" font-weight="bold" font-family="Liberation Serif" fill="#111">0</text>
<line x1="74.2" y1="609.30" x2="81" y2="609.30" stroke="#1a1a1a" stroke-width="1.3"/>
<text x="70.6" y="614.00" text-anchor="end" font-size="13.8" font-weight="bold" font-family="Liberation Serif" fill="#111">10</text>
<line x1="74.2" y1="567.20" x2="81" y2="567.20" stroke="#1a1a1a" stroke-width="1.3"/>
<text x="70.6" y="571.90" text-anchor="end" font-size="13.8" font-weight="bold" font-family="Liberation Serif" fill="#111">20</text>
<line x1="74.2" y1="525.10" x2="81" y2="525.10" stroke="#1a1a1a" stroke-width="1.3"/>
<text x="70.6" y="529.80" text-anchor="end" font-size="13.8" font-weight="bold" font-family="Liberation Serif" fill="#111">30</text>
<line x1="74.2" y1="483.00" x2="81" y2="483.00" stroke="#1a1a1a" stroke-width="1.3"/>
<text x="70.6" y="487.70" text-anchor="end" font-size="13.8" font-weight="bold" font-family="Liberation Serif" fill="#111">40</text>
<line x1="74.2" y1="440.90" x2="81" y2="440.90" stroke="#1a1a1a" stroke-width="1.3"/>
<text x="70.6" y="445.60" text-anchor="end" font-size="13.8" font-weight="bold" font-family="Liberation Serif" fill="#111">50</text>
<line x1="74.2" y1="398.80" x2="81" y2="398.80" stroke="#1a1a1a" stroke-width="1.3"/>
<text x="70.6" y="403.50" text-anchor="end" font-size="13.8" font-weight="bold" font-family="Liberation Serif" fill="#111">60</text>
<rect x="104.75" y="525.66" width="18.0" height="125.64" fill="#7edcd6"/>
<rect x="104.75" y="471.22" width="18.0" height="53.04" fill="#fde08c"/>
<text x="113.75" y="593.28" text-anchor="middle" font-size="14" font-weight="bold" font-family="Liberation Serif" fill="#111">30</text>
<text x="113.75" y="503.24" text-anchor="middle" font-size="14" font-weight="bold" font-family="Liberation Serif" fill="#111">13</text>
<text x="113.75" y="476.02" text-anchor="middle" font-size="14" font-weight="bold" font-family="Liberation Serif" fill="#111">0</text>
<text x="113.75" y="675.3" text-anchor="middle" font-size="14.5" font-weight="bold" font-family="Liberation Serif" fill="#111">ACPE</text>
<rect x="171.37" y="529.85" width="18.0" height="121.45" fill="#7edcd6"/>
<rect x="171.37" y="475.40" width="18.0" height="53.04" fill="#fde08c"/>
<text x="180.37" y="595.37" text-anchor="middle" font-size="14" font-weight="bold" font-family="Liberation Serif" fill="#111">29</text>
<text x="180.37" y="507.43" text-anchor="middle" font-size="14" font-weight="bold" font-family="Liberation Serif" fill="#111">13</text>
<text x="180.37" y="480.20" text-anchor="middle" font-size="14" font-weight="bold" font-family="Liberation Serif" fill="#111">0</text>
<text x="180.37" y="675.3" text-anchor="middle" font-size="14.5" font-weight="bold" font-family="Liberation Serif" fill="#111">ACPL</text>
<rect x="237.99" y="529.85" width="18.0" height="121.45" fill="#7edcd6"/>
<rect x="237.99" y="475.40" width="18.0" height="53.04" fill="#fde08c"/>
<text x="246.99" y="595.37" text-anchor="middle" font-size="14" font-weight="bold" font-family="Liberation Serif" fill="#111">29</text>
<text x="246.99" y="507.43" text-anchor="middle" font-size="14" font-weight="bold" font-family="Liberation Serif" fill="#111">13</text>
<text x="246.99" y="480.20" text-anchor="middle" font-size="14" font-weight="bold" font-family="Liberation Serif" fill="#111">0</text>
<text x="246.99" y="675.3" text-anchor="middle" font-size="14.5" font-weight="bold" font-family="Liberation Serif" fill="#111">AD</text>
<rect x="304.61" y="525.66" width="18.0" height="125.64" fill="#7edcd6"/>
<rect x="304.61" y="471.22" width="18.0" height="53.04" fill="#fde08c"/>
<text x="313.61" y="593.28" text-anchor="middle" font-size="14" font-weight="bold" font-family="Liberation Serif" fill="#111">30</text>
<text x="313.61" y="503.24" text-anchor="middle" font-size="14" font-weight="bold" font-family="Liberation Serif" fill="#111">13</text>
<text x="313.61" y="476.02" text-anchor="middle" font-size="14" font-weight="bold" font-family="Liberation Serif" fill="#111">0</text>
<text x="313.61" y="675.3" text-anchor="middle" font-size="14.5" font-weight="bold" font-family="Liberation Serif" fill="#111">ADP</text>
<rect x="371.23" y="529.85" width="18.0" height="121.45" fill="#7edcd6"/>
<rect x="371.23" y="475.40" width="18.0" height="53.04" fill="#fde08c"/>
<text x="380.23" y="595.37" text-anchor="middle" font-size="14" font-weight="bold" font-family="Liberation Serif" fill="#111">29</text>
<text x="380.23" y="507.43" text-anchor="middle" font-size="14" font-weight="bold" font-family="Liberation Serif" fill="#111">13</text>
<text x="380.23" y="480.20" text-anchor="middle" font-size="14" font-weight="bold" font-family="Liberation Serif" fill="#111">0</text>
<text x="380.23" y="675.3" text-anchor="middle" font-size="14.5" font-weight="bold" font-family="Liberation Serif" fill="#111">AS</text>
<rect x="437.85" y="529.85" width="18.0" height="121.45" fill="#7edcd6"/>
<rect x="437.85" y="475.40" width="18.0" height="53.04" fill="#fde08c"/>
<text x="446.85" y="595.37" text-anchor="middle" font-size="14" font-weight="bold" font-family="Liberation Serif" fill="#111">29</text>
<text x="446.85" y="507.43" text-anchor="middle" font-size="14" font-weight="bold" font-family="Liberation Serif" fill="#111">13</text>
<text x="446.85" y="480.20" text-anchor="middle" font-size="14" font-weight="bold" font-family="Liberation Serif" fill="#111">0</text>
<text x="446.85" y="675.3" text-anchor="middle" font-size="14.5" font-weight="bold" font-family="Liberation Serif" fill="#111">AMV</text>
<rect x="504.47" y="525.66" width="18.0" height="125.64" fill="#7edcd6"/>
<rect x="504.47" y="471.22" width="18.0" height="53.04" fill="#fde08c"/>
<text x="513.47" y="593.28" text-anchor="middle" font-size="14" font-weight="bold" font-family="Liberation Serif" fill="#111">30</text>
<text x="513.47" y="503.24" text-anchor="middle" font-size="14" font-weight="bold" font-family="Liberation Serif" fill="#111">13</text>
<text x="513.47" y="476.02" text-anchor="middle" font-size="14" font-weight="bold" font-family="Liberation Serif" fill="#111">0</text>
<text x="513.47" y="675.3" text-anchor="middle" font-size="14.5" font-weight="bold" font-family="Liberation Serif" fill="#111">ASP</text>
<rect x="571.09" y="500.53" width="18.0" height="150.77" fill="#7edcd6"/>
<rect x="571.09" y="429.34" width="18.0" height="69.80" fill="#fde08c"/>
<text x="580.09" y="580.72" text-anchor="middle" font-size="14" font-weight="bold" font-family="Liberation Serif" fill="#111">36</text>
<text x="580.09" y="469.73" text-anchor="middle" font-size="14" font-weight="bold" font-family="Liberation Serif" fill="#111">17</text>
<text x="580.09" y="434.14" text-anchor="middle" font-size="14" font-weight="bold" font-family="Liberation Serif" fill="#111">0</text>
<text x="580.09" y="675.3" text-anchor="middle" font-size="14.5" font-weight="bold" font-family="Liberation Serif" fill="#111">ET</text>
<rect x="637.71" y="487.97" width="18.0" height="163.33" fill="#7edcd6"/>
<rect x="637.71" y="412.58" width="18.0" height="73.98" fill="#fde08c"/>
<text x="646.71" y="574.43" text-anchor="middle" font-size="14" font-weight="bold" font-family="Liberation Serif" fill="#111">39</text>
<text x="646.71" y="455.08" text-anchor="middle" font-size="14" font-weight="bold" font-family="Liberation Serif" fill="#111">18</text>
<text x="646.71" y="417.38" text-anchor="middle" font-size="14" font-weight="bold" font-family="Liberation Serif" fill="#111">0</text>
<text x="646.71" y="675.3" text-anchor="middle" font-size="14.5" font-weight="bold" font-family="Liberation Serif" fill="#111">EE</text>
<line x1="81" y1="398.4" x2="81" y2="657.6" stroke="#1e1e1e" stroke-width="2"/>
<line x1="80" y1="651.4" x2="681" y2="651.4" stroke="#1a1a1a" stroke-width="1.7"/>
<line x1="147.12" y1="651.4" x2="147.12" y2="657.6" stroke="#222" stroke-width="1.4"/>
<line x1="213.74" y1="651.4" x2="213.74" y2="657.6" stroke="#222" stroke-width="1.4"/>
<line x1="280.36" y1="651.4" x2="280.36" y2="657.6" stroke="#222" stroke-width="1.4"/>
<line x1="346.98" y1="651.4" x2="346.98" y2="657.6" stroke="#222" stroke-width="1.4"/>
<line x1="413.60" y1="651.4" x2="413.60" y2="657.6" stroke="#222" stroke-width="1.4"/>
<line x1="480.22" y1="651.4" x2="480.22" y2="657.6" stroke="#222" stroke-width="1.4"/>
<line x1="546.84" y1="651.4" x2="546.84" y2="657.6" stroke="#222" stroke-width="1.4"/>
<line x1="613.46" y1="651.4" x2="613.46" y2="657.6" stroke="#222" stroke-width="1.4"/>
<line x1="680.08" y1="651.4" x2="680.08" y2="657.6" stroke="#222" stroke-width="1.4"/>
<text x="372.6" y="701.6" text-anchor="middle" font-size="14.5" font-weight="bold" font-family="Liberation Serif" fill="#111">Cp Genome</text>
</svg>
</body></html>
